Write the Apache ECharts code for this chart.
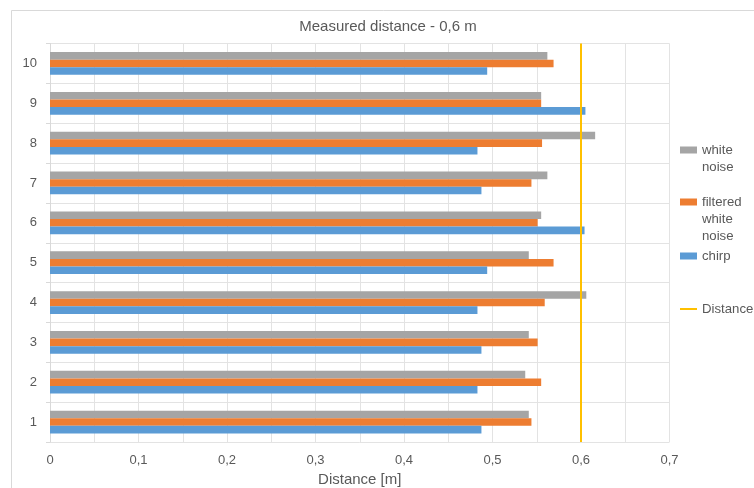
<!DOCTYPE html>
<html>
<head>
<meta charset="utf-8">
<script src="https://cdn.jsdelivr.net/npm/echarts@6/dist/echarts.min.js"></script>
<style>html,body{margin:0;padding:0;background:#fff}#c{width:754px;height:488px}</style>
</head>
<body>
<div id="c"></div>
<script>
const categories = ['1','2','3','4','5','6','7','8','9','10'];
const whiteNoise = [0.541, 0.537, 0.541, 0.606, 0.541, 0.555, 0.562, 0.616, 0.555, 0.562];
const filteredWhiteNoise = [0.544, 0.555, 0.551, 0.559, 0.569, 0.551, 0.544, 0.556, 0.555, 0.569];
const chirp = [0.4875, 0.483, 0.4875, 0.483, 0.494, 0.604, 0.4875, 0.483, 0.605, 0.494];
const distanceValue = 0.6;
const xTicks = { min: 0, max: 0.7, interval: 0.1 };
const legendLabels = {
  'white noise': ['white', 'noise'],
  'filtered white noise': ['filtered', 'white', 'noise'],
  'chirp': ['chirp'],
  'Distance': ['Distance']
};

const FONT = 'Liberation Sans';
const TXT = '#595959';
const GRID = '#e3e3e3';
const LH = 17;

const chart = echarts.init(document.getElementById('c'), null, { renderer: 'canvas' });

// iconY: vertical centre of the legend icon; the first text line is aligned with it
function legendItem(name, iconY, h) {
  const lines = legendLabels[name];
  const n = lines.length;
  const blockH = (2 * n - 1) * LH;
  return {
    top: iconY - blockH / 2, left: 680, orient: 'vertical', selectedMode: false, padding: 0,
    itemWidth: 17, itemHeight: h, icon: 'rect',
    data: [name],
    formatter: () => new Array(n - 1).fill(' ').concat(lines).join('\n'),
    textStyle: { color: TXT, fontFamily: FONT, fontSize: 13.2, lineHeight: LH }
  };
}

const option = {
  animation: false,
  backgroundColor: '#fff',
  title: {
    text: 'Measured distance - 0,6 m', left: 388, top: 19, textAlign: 'center', padding: 0,
    textStyle: { color: TXT, fontFamily: FONT, fontSize: 15, fontWeight: 'normal' }
  },
  graphic: [{
    type: 'rect', shape: { x: 11.5, y: 10.5, width: 760, height: 500 },
    style: { fill: 'none', stroke: '#d9d9d9', lineWidth: 1 }, silent: true, z: -1
  }],
  legend: [
    legendItem('white noise', 150, 7),
    legendItem('filtered white noise', 202, 7),
    legendItem('chirp', 256, 7),
    legendItem('Distance', 309, 2)
  ],
  grid: { left: 50, right: 84.5, top: 43.5, bottom: 46, containLabel: false, outerBoundsMode: 'none' },
  xAxis: {
    type: 'value', min: xTicks.min, max: xTicks.max, interval: xTicks.interval,
    name: 'Distance [m]', nameLocation: 'middle', nameGap: 29,
    nameTextStyle: { color: TXT, fontFamily: FONT, fontSize: 15 },
    axisLine: { show: false }, axisTick: { show: false },
    axisLabel: { color: TXT, fontFamily: FONT, fontSize: 13, margin: 12,
      formatter: (v) => String(Math.round(v * 10) / 10).replace('.', ',') },
    splitLine: { show: true, lineStyle: { color: GRID, width: 1 } },
    minorTick: { show: false, splitNumber: 2 },
    minorSplitLine: { show: true, lineStyle: { color: GRID, width: 1 } }
  },
  yAxis: {
    type: 'category', data: categories,
    axisLine: { show: true, lineStyle: { color: '#d9d9d9' } },
    axisTick: { show: true, length: 4, lineStyle: { color: '#d9d9d9' } },
    axisLabel: { color: TXT, fontFamily: FONT, fontSize: 13, margin: 13 },
    splitLine: { show: true, lineStyle: { color: GRID, width: 1 } }
  },
  series: [
    { name: 'white noise', type: 'bar', data: whiteNoise, barGap: '0%', barCategoryGap: '43%',
      itemStyle: { color: '#A5A5A5' } },
    { name: 'filtered white noise', type: 'bar', data: filteredWhiteNoise, barGap: '0%', barCategoryGap: '43%',
      itemStyle: { color: '#ED7D31' } },
    { name: 'chirp', type: 'bar', data: chirp, barGap: '0%', barCategoryGap: '43%',
      itemStyle: { color: '#5B9BD5' } },
    { name: 'Distance', type: 'line', data: [], itemStyle: { color: '#FFC000' },
      lineStyle: { color: '#FFC000', width: 2 },
      markLine: { silent: true, symbol: ['none', 'none'], label: { show: false },
        lineStyle: { color: '#FFC000', width: 2, type: 'solid' },
        data: [{ xAxis: distanceValue }] } }
  ]
};
chart.setOption(option);
</script>
</body>
</html>
